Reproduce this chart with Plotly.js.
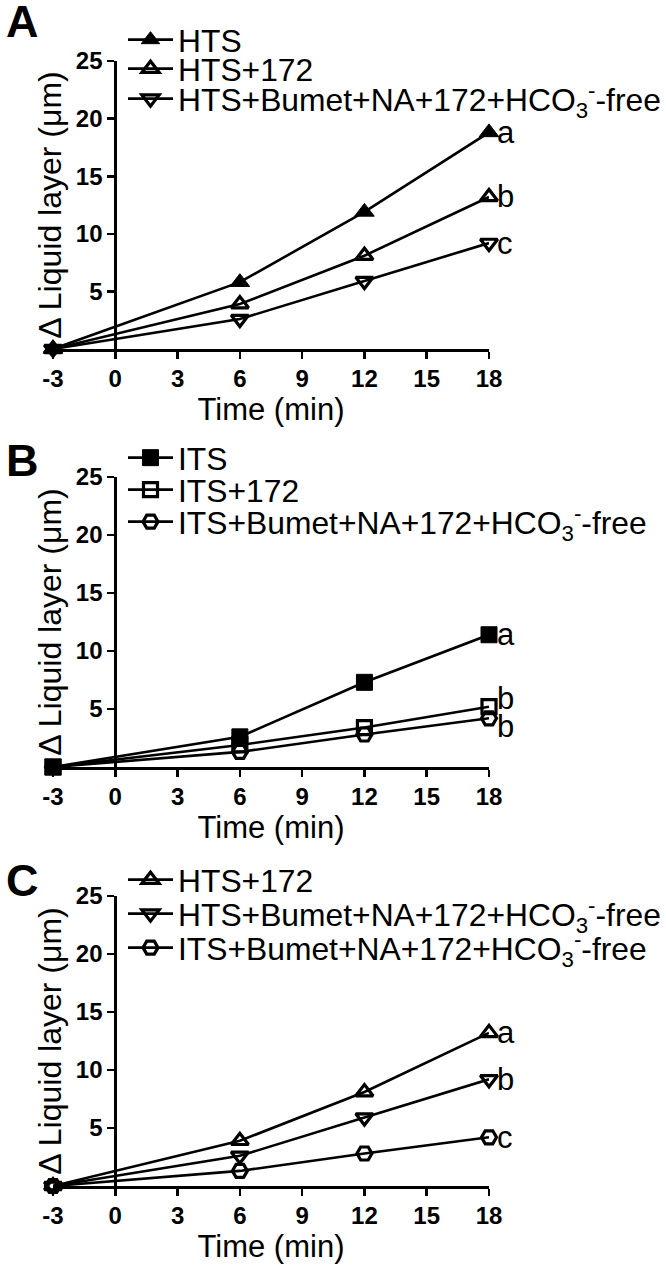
<!DOCTYPE html>
<html>
<head>
<meta charset="utf-8">
<script src="https://cdn.plot.ly/plotly-3.0.1.min.js"></script>
<style>html,body{margin:0;padding:0;background:#fff;}#chart{width:666px;height:1267px;}</style>
</head>
<body>
<div id="chart"></div>
<script>
// ---- data ----
const timeMin = [-3, 6, 12, 18];
const xTickVals = [-3, 0, 3, 6, 9, 12, 15, 18];
const xTickText = ['-3', '0', '3', '6', '9', '12', '15', '18'];
const yTickVals = [5, 10, 15, 20, 25];
const yTickText = ['5', '10', '15', '20', '25'];

const htsVals = [0, 5.8, 11.9, 18.8];
const hts172Vals = [0, 3.9, 8.1, 13.2];
const htsBumetVals = [0, 2.6, 5.9, 9.2];
const itsVals = [0, 2.6, 7.3, 11.4];
const its172Vals = [0, 1.9, 3.4, 5.2];
const itsBumetVals = [0, 1.3, 2.8, 4.2];

const nameHTS = 'HTS';
const nameHTS172 = 'HTS+172';
const nameHTSBumet = 'HTS+Bumet+NA+172+HCO<sub>3</sub><sup>-</sup>-free';
const nameITS = 'ITS';
const nameITS172 = 'ITS+172';
const nameITSBumet = 'ITS+Bumet+NA+172+HCO<sub>3</sub><sup>-</sup>-free';

const panelLetters = ['A', 'B', 'C'];
const sigA = ['a', 'b', 'c'];
const sigB = ['a', 'b', 'b'];
const sigC = ['a', 'b', 'c'];

// ---- layout helpers ----
const FONT = 'Liberation Sans, Arial, sans-serif';
const W = 666, H = 1267;
const mL = 53, mR = 177;
const plotW = W - mL - mR;
const panelPx = [[61, 349], [477, 767], [896, 1186]];
const yDom = panelPx.map(p => [(H - p[1]) / H, (H - p[0]) / H]);
const yAxisPos = (0 - (-3)) / (18 - (-3));
const legendRowsPx = [[40, 69, 99], [458, 490, 522], [880, 914, 948]];

const sym = {
  hts: {symbol: 'triangle-up', color: '#000', size: 17, line: {color: '#000', width: 1}},
  hts172: {symbol: 'triangle-up-open', color: '#000', size: 15, line: {color: '#000', width: 3.2}},
  htsBumet: {symbol: 'triangle-down-open', color: '#000', size: 15, line: {color: '#000', width: 3.2}},
  its: {symbol: 'square', color: '#000', size: 16, line: {color: '#000', width: 1}},
  its172: {symbol: 'square-open', color: '#000', size: 14, line: {color: '#000', width: 3.2}},
  itsBumet: {symbol: 'hexagon2-open', color: '#000', size: 15, line: {color: '#000', width: 3.2}}
};

let legCount = 0;
const legends = {};
function tr(vals, name, mk, panel, row) {
  const sfx = panel === 1 ? '' : String(panel);
  legCount += 1;
  const id = legCount === 1 ? 'legend' : 'legend' + legCount;
  legends[id] = {
    x: (123 - mL) / plotW, xanchor: 'left',
    y: 1 - legendRowsPx[panel - 1][row] / H, yanchor: 'middle',
    font: {family: FONT, size: 31.8, color: '#000'}, bgcolor: 'rgba(0,0,0,0)',
    itemwidth: 45, borderwidth: 0
  };
  return {
    type: 'scatter', mode: 'lines+markers',
    x: timeMin, y: vals, name: name,
    xaxis: 'x' + sfx, yaxis: 'y' + sfx,
    line: {color: '#000', width: 2.6},
    marker: mk, cliponaxis: false,
    legend: id
  };
}

const data = [
  tr(htsVals, nameHTS, sym.hts, 1, 0),
  tr(hts172Vals, nameHTS172, sym.hts172, 1, 1),
  tr(htsBumetVals, nameHTSBumet, sym.htsBumet, 1, 2),
  tr(itsVals, nameITS, sym.its, 2, 0),
  tr(its172Vals, nameITS172, sym.its172, 2, 1),
  tr(itsBumetVals, nameITSBumet, sym.itsBumet, 2, 2),
  tr(hts172Vals, nameHTS172, sym.hts172, 3, 0),
  tr(htsBumetVals, nameHTSBumet, sym.htsBumet, 3, 1),
  tr(itsBumetVals, nameITSBumet, sym.itsBumet, 3, 2)
];

function xax(anchor) {
  return {
    domain: [0, 1], anchor: anchor, range: [-3, 18],
    tickvals: xTickVals, ticktext: xTickText,
    ticks: 'outside', ticklen: 7, tickwidth: 2.6, tickcolor: '#000',
    showline: true, linewidth: 2.6, linecolor: '#000', showgrid: false, zeroline: false,
    tickfont: {family: FONT, size: 24, color: '#000', weight: 'bold'},
    title: {text: 'Time (min)', font: {family: FONT, size: 31, color: '#000'}, standoff: 0}
  };
}
function yax(i) {
  return {
    domain: yDom[i], anchor: 'free', position: yAxisPos, range: [0, 25],
    tickvals: yTickVals, ticktext: yTickText,
    ticks: 'outside', ticklen: 7, tickwidth: 2.6, tickcolor: '#000',
    showline: true, linewidth: 2.6, linecolor: '#000', showgrid: false, zeroline: false,
    tickfont: {family: FONT, size: 24, color: '#000', weight: 'bold'},
    title: {text: 'Δ Liquid layer (μm)', font: {family: FONT, size: 32, color: '#000'}, standoff: 3}
  };
}

const annotations = [];
panelLetters.forEach((L, i) => {
  annotations.push({
    xref: 'paper', yref: 'paper', x: (22 - mL) / plotW, y: 1 - [22, 460, 880][i] / H,
    text: '<b>' + L + '</b>', showarrow: false, xanchor: 'center', yanchor: 'middle',
    font: {family: FONT, size: 45, color: '#000'}
  });
});
function sig(txt, val, ax, dy) {
  annotations.push({
    xref: ax[0], yref: ax[1], x: timeMin[timeMin.length - 1], y: val[val.length - 1],
    text: txt, showarrow: false, xanchor: 'left', yanchor: 'middle', xshift: 6, yshift: dy || 0,
    font: {family: FONT, size: 31, color: '#000'}
  });
}
sig(sigA[0], htsVals, ['x', 'y']);
sig(sigA[1], hts172Vals, ['x', 'y']);
sig(sigA[2], htsBumetVals, ['x', 'y']);
sig(sigB[0], itsVals, ['x2', 'y2']);
sig(sigB[1], its172Vals, ['x2', 'y2'], 8);
sig(sigB[2], itsBumetVals, ['x2', 'y2'], -8);
sig(sigC[0], hts172Vals, ['x3', 'y3']);
sig(sigC[1], htsBumetVals, ['x3', 'y3']);
sig(sigC[2], itsBumetVals, ['x3', 'y3']);

const layout = Object.assign({
  width: W, height: H,
  margin: {l: mL, r: mR, t: 0, b: 0, pad: 0, autoexpand: false},
  paper_bgcolor: '#fff', plot_bgcolor: '#fff',
  showlegend: true,
  xaxis: xax('y'), xaxis2: xax('y2'), xaxis3: xax('y3'),
  yaxis: yax(0), yaxis2: yax(1), yaxis3: yax(2),
  annotations: annotations
}, legends);

Plotly.newPlot('chart', data, layout, {displayModeBar: false, staticPlot: true});
</script>
</body>
</html>
